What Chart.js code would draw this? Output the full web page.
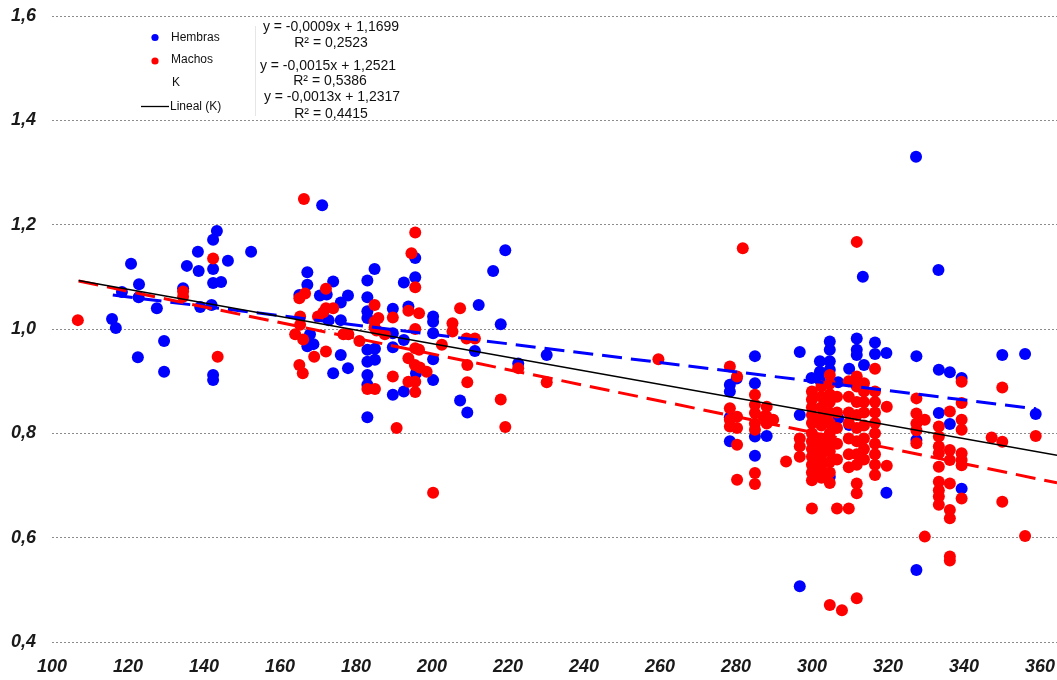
<!DOCTYPE html>
<html>
<head>
<meta charset="utf-8">
<script src="https://cdn.jsdelivr.net/npm/chart.js@4.4.1/dist/chart.umd.min.js"></script>
<style>
html,body{margin:0;padding:0;background:#fff;}
#wrap{width:1057px;height:680px;position:relative;}
</style>
</head>
<body>
<div id="wrap"><canvas id="c" width="1057" height="680"></canvas></div>
<script>
// ---------- DATA ----------
const xTicks = [100,120,140,160,180,200,220,240,260,280,300,320,340,360];
const yTicks = [0.4,0.6,0.8,1.0,1.2,1.4,1.6];

const hembras = [
[115.8,1.019],[116.8,1.002],[118.4,1.071],[120.8,1.125],[122.8,1.061],[122.9,1.086],[122.6,0.946],[127.6,1.040],[129.5,0.977],[129.5,0.918],
[134.5,1.078],[135.5,1.121],[138.6,1.111],[138.4,1.148],[139,1.042],[142,1.046],[142.4,1.115],[142.4,1.171],[143.4,1.188],[142.4,0.912],
[142.4,0.902],[142.4,1.088],[144.5,1.090],[146.3,1.131],[152.4,1.148],
[167.2,1.109],[167.2,1.085],[174,1.091],[184.9,1.115],[183,1.093],[183,1.061],[177.9,1.064],[176,1.051],[165.1,1.065],[170.5,1.064],
[172.3,1.066],[172.8,1.017],[176,1.017],[167.2,0.967],[168.8,0.971],[167.9,0.990],[174,0.915],[177.9,0.925],[176,0.950],[183,1.034],
[183,1.021],[189.7,1.039],[189.7,0.992],[189.7,0.965],[183,0.960],[183,0.937],[185,0.962],[185,0.941],[183,0.912],[183,0.893],
[183,0.831],[189.7,0.874],[192.6,0.880],[192.6,0.979],[193.8,1.043],[195.8,0.915],[200.3,1.024],[200.3,1.014],[200.3,0.992],[200.3,0.942],
[200.3,0.902],[212.3,1.046],[211.3,0.958],[207.4,0.863],[209.3,0.840],[218.1,1.009],[222.7,0.934],[230.2,0.950],[219.3,1.151],[216.1,1.111],
[195.6,1.136],[195.6,1.099],[192.6,1.089],[171.1,1.237],
[278.4,0.893],[278.4,0.880],[278.4,0.831],[278.4,0.785],[280.2,0.905],[285,0.948],[285,0.896],[285,0.794],[285,0.757],[288.1,0.795],
[296.8,0.956],[296.8,0.835],[296.8,0.507],[299.9,0.906],[302.1,0.938],[302.1,0.918],[302.1,0.902],[304.7,0.976],[304.7,0.960],[304.7,0.938],
[304.7,0.922],[304.7,0.717],[306.9,0.898],[306.9,0.829],[309.8,0.924],[309.8,0.816],[311.8,0.982],[311.8,0.960],[311.8,0.950],[311.8,0.896],
[313.7,0.931],[313.4,1.100],[316.6,0.974],[316.6,0.952],[319.6,0.954],[319.6,0.686],[327.4,1.330],[327.5,0.948],[327.5,0.787],[327.5,0.538],
[333.3,1.113],[333.4,0.922],[333.4,0.839],[336.3,0.917],[336.3,0.818],[339.4,0.906],[339.4,0.694],[350.1,0.950],[356.1,0.952],[358.9,0.837]
];

const machos = [
[106.8,1.017],[134.5,1.072],[134.5,1.062],[142.4,1.135],[143.6,0.947],
[166.3,1.249],[195.6,1.185],[194.6,1.145],[195.6,1.080],[172.1,1.077],[165.1,1.059],[166.6,1.068],[172.1,1.040],[174,1.040],[170,1.024],
[171.4,1.032],[165.3,1.024],[165.3,1.008],[164,0.990],[166.1,0.980],[169,0.947],[172.1,0.957],[165.1,0.931],[166,0.915],[176.7,0.990],
[178,0.990],[180.9,0.977],[184.9,1.046],[184.9,1.014],[185.9,1.021],[184.9,1.003],[185.4,0.997],[189.7,1.022],[187.6,0.990],[183,0.885],
[185,0.885],[189.7,0.909],[190.7,0.810],[193.8,1.035],[196.6,1.030],[195.6,1.000],[195.6,0.963],[196.6,0.960],[193.8,0.944],[195.5,0.931],
[196.8,0.926],[198.6,0.918],[193.8,0.899],[195.6,0.899],[195.6,0.879],[202.6,0.970],[205.4,1.011],[205.4,0.995],[207.4,1.040],[209.1,0.982],
[211.3,0.982],[209.3,0.931],[209.3,0.898],[218.1,0.865],[219.3,0.812],[222.7,0.925],[200.3,0.686],[230.2,0.898],[259.6,0.942],
[278.4,0.928],[278.4,0.848],[278.4,0.826],[278.4,0.813],[280.3,0.909],[280.3,0.832],[280.3,0.810],[280.3,0.778],[280.3,0.711],[281.8,1.155],
[285,0.874],[285,0.855],[285,0.839],[285,0.819],[285,0.807],[285,0.724],[285,0.703],[287.3,0.832],[288.1,0.851],[288.1,0.832],
[288.1,0.819],[289.8,0.826],[293.2,0.746],[296.8,0.790],[296.8,0.775],[296.8,0.755],
[300,0.880],[300,0.865],[300,0.850],[300,0.835],[300,0.820],[300,0.800],[300,0.785],[300,0.770],[300,0.755],[300,0.740],[300,0.725],[300,0.710],[300,0.656],
[302.5,0.890],[302.5,0.870],[302.5,0.850],[302.5,0.830],[302.5,0.815],[302.5,0.790],[302.5,0.775],[302.5,0.760],[302.5,0.745],[302.5,0.730],[302.5,0.715],
[304.7,0.912],[304.7,0.895],[304.7,0.875],[304.7,0.860],[304.7,0.840],[304.7,0.820],[304.7,0.800],[304.7,0.785],[304.7,0.765],[304.7,0.745],[304.7,0.725],[304.7,0.705],[304.7,0.471],
[306.6,0.870],[306.6,0.840],[306.6,0.810],[306.6,0.780],[306.6,0.750],[306.6,0.656],[307.9,0.461],
[309.7,0.900],[309.7,0.870],[309.7,0.840],[309.7,0.820],[309.7,0.790],[309.7,0.760],[309.7,0.735],[309.7,0.656],
[311.8,1.167],[311.8,0.909],[311.8,0.890],[311.8,0.860],[311.8,0.835],[311.8,0.810],[311.8,0.785],[311.8,0.760],[311.8,0.740],[311.8,0.704],[311.8,0.685],[311.8,0.484],
[313.7,0.896],[313.7,0.880],[313.7,0.860],[313.7,0.840],[313.7,0.815],[313.7,0.790],[313.7,0.770],[313.7,0.750],
[316.6,0.924],[316.6,0.880],[316.6,0.860],[316.6,0.840],[316.6,0.820],[316.6,0.800],[316.6,0.780],[316.6,0.760],[316.6,0.740],[316.6,0.720],
[319.7,0.851],[319.7,0.738],
[327.5,0.867],[327.5,0.838],[327.5,0.819],[327.5,0.806],[327.5,0.781],[329.7,0.826],[329.7,0.602],
[333.4,0.813],[333.4,0.794],[333.4,0.775],[333.4,0.762],[333.4,0.736],[333.4,0.707],[333.4,0.691],[333.4,0.679],[333.4,0.663],
[336.3,0.842],[336.3,0.768],[336.3,0.749],[336.3,0.704],[336.3,0.653],[336.3,0.637],[336.3,0.564],[336.3,0.556],
[339.4,0.899],[339.4,0.858],[339.4,0.826],[339.4,0.807],[339.4,0.762],[339.4,0.749],[339.4,0.739],[339.4,0.675],
[347.3,0.792],[350.1,0.888],[350.1,0.784],[350.1,0.669],[356.1,0.603],[358.9,0.795]
];

// trend line end points
const trendHembras = [[116,1.065],[359,0.847]];
const trendMachos  = [[107,1.092],[364.5,0.705]];
const trendK       = [[107,1.093],[364.5,0.758]];

const legendLabels = ['Hembras','Machos','K','Lineal (K)'];
const equations = ['y = -0,0009x + 1,1699','R² = 0,2523','y = -0,0015x + 1,2521','R² = 0,5386','y = -0,0013x + 1,2317','R² = 0,4415'];

// ---------- CHART ----------
const toXY = a => a.map(p => ({x:p[0], y:p[1]}));
const tickFont = {family:"'Liberation Sans', Arial, sans-serif", size:18, weight:'bold', style:'italic'};

const overlay = {
  id:'overlay',
  afterDraw(chart){
    const ctx = chart.ctx;
    ctx.save();
    // legend box
    ctx.fillStyle = '#fff';
    ctx.fillRect(106, 18, 148, 100);
    ctx.strokeStyle = '#e6e6e6';
    ctx.lineWidth = 1;
    ctx.beginPath(); ctx.moveTo(255.5, 26); ctx.lineTo(255.5, 116); ctx.stroke();
    ctx.font = "12px 'Liberation Sans', Arial, sans-serif";
    ctx.textBaseline = 'middle';
    ctx.textAlign = 'left';
    ctx.fillStyle = '#0000ff';
    ctx.beginPath(); ctx.arc(155, 37.5, 3.6, 0, Math.PI*2); ctx.fill();
    ctx.fillStyle = '#ff0000';
    ctx.beginPath(); ctx.arc(155, 61, 3.6, 0, Math.PI*2); ctx.fill();
    ctx.strokeStyle = '#000'; ctx.lineWidth = 1.3;
    ctx.beginPath(); ctx.moveTo(141, 106.5); ctx.lineTo(169, 106.5); ctx.stroke();
    ctx.fillStyle = '#111';
    ctx.fillText(legendLabels[0], 171, 37.5);
    ctx.fillText(legendLabels[1], 171, 60);
    ctx.fillText(legendLabels[2], 172, 83);
    ctx.fillText(legendLabels[3], 170, 107);
    // equations
    ctx.font = "14px 'Liberation Sans', Arial, sans-serif";
    ctx.textAlign = 'center';
    const ex = [331,331,328,330,332,331];
    const ey = [27.5,43,66,81.5,97.5,114];
    equations.forEach((t,i)=>ctx.fillText(t, ex[i], ey[i]));
    ctx.restore();
  }
};

new Chart(document.getElementById('c'), {
  type:'scatter',
  data:{
    datasets:[
      {label:'Lineal (K)', data:toXY(trendK), showLine:true, borderColor:'#000', borderWidth:1.4, pointRadius:0, order:0},
      {label:'Machos trend', data:toXY(trendMachos), showLine:true, borderColor:'#ff0000', borderWidth:3, borderDash:[20,9], pointRadius:0, order:1},
      {label:'Hembras trend', data:toXY(trendHembras), showLine:true, borderColor:'#0000ff', borderWidth:3, borderDash:[20,9], pointRadius:0, order:2},
      {label:'Machos', data:toXY(machos), backgroundColor:'#ff0000', borderWidth:0, pointRadius:6, order:3},
      {label:'Hembras', data:toXY(hembras), backgroundColor:'#0000ff', borderWidth:0, pointRadius:6, order:4}
    ]
  },
  options:{
    responsive:false,
    animation:false,
    devicePixelRatio:1,
    layout:{autoPadding:false, padding:{top:16,right:0,left:0,bottom:0}},
    plugins:{legend:{display:false}, tooltip:{enabled:false}, title:{display:false}},
    scales:{
      x:{
        type:'linear', min:100, max:364.5,
        afterBuildTicks(scale){ scale.ticks = xTicks.map(v=>({value:v})); },
        afterFit(scale){ scale.height = 38; scale.paddingLeft = 0; scale.paddingRight = 0; },
        grid:{display:false, drawTicks:false},
        border:{display:false},
        ticks:{font:tickFont, color:'#1a1a1a', padding:14, maxRotation:0, autoSkip:false}
      },
      y:{
        type:'linear', min:0.4, max:1.6,
        afterBuildTicks(scale){ scale.ticks = yTicks.map(v=>({value:v})); },
        afterFit(scale){ scale.width = 52; scale.paddingTop = 0; scale.paddingBottom = 0; },
        grid:{color:'#8c8c8c', lineWidth:1, drawTicks:false},
        border:{display:false, dash:[2,2]},
        ticks:{font:tickFont, color:'#1a1a1a', padding:16,
          callback:(v)=>v.toFixed(1).replace('.',',')}
      }
    }
  },
  plugins:[overlay]
});
</script>
</body>
</html>
